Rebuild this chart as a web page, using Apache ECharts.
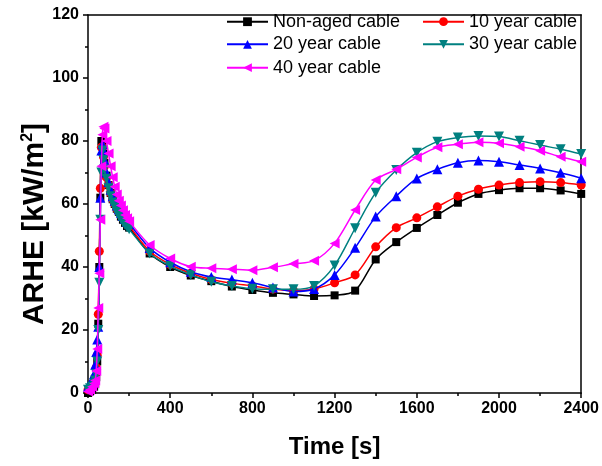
<!DOCTYPE html>
<html><head><meta charset="utf-8">
<script src="https://cdn.jsdelivr.net/npm/echarts@6/dist/echarts.min.js"></script>
<style>html,body{margin:0;padding:0;background:#fff}#c{width:602px;height:466px}</style>
</head><body><div id="c"></div>
<script>
const times = [0,10,20,30,35,40,45,50,55,60,65,70,75,80,90,100,110,120,130,140,150,160,170,180,190,200,
  300,400,500,600,700,800,900,1000,1100,1200,1300,1400,1500,1600,1700,1800,1900,2000,2100,2200,2300,2400];
const nonAged = [0,0.5,1,2,3,5,10,22,40,62,80,79,76,73,69,66,63.5,61.5,60,58.5,57.5,56,55,54,53,52.5,
  44.3,40,37.3,35.5,33.8,32.7,31.8,31.3,30.8,31,32.5,42.4,47.9,52.4,56.5,60.4,63.2,64.4,65,65,64.3,63.2];
const year10 = [1,1.5,2,3,5,8,12,25,45,65,78,78,75,72,68.5,66,63.5,61.5,60,58.5,57.5,56.5,55.5,54.5,53.5,53,
  45,40.8,38,36,34.8,34,33,32.5,33,35,37.5,46.4,52.5,55.6,59.1,62.5,64.7,66,66.8,67.1,66.8,66];
const year20 = [2,3,4,6,9,13,17,21,40,62,77,79,77,74,70,67,64.5,62.5,61,59.5,58.3,57.2,56.2,55.2,54.3,53.8,
  46,41.5,38.5,36.8,36,35,33.5,32.2,33,37.5,46.1,56,62.5,68.1,71,73.1,73.8,73.4,72.4,71.3,69.9,68.2];
const year30 = [1,1.5,2,3,4,6,10,20,35,55,70,77,74,71,68,65,62.5,60.5,59,57.5,56.3,55.2,54.2,53.3,52.6,52,
  44.3,40.3,37.5,35.3,34,33.1,32.9,32.9,34,40.5,52.3,63.6,70.8,76.3,79.8,81.1,81.6,81.4,80.1,78.7,77.4,75.9];
const year40 = [0.5,1,2,3,4,7,14,27,38,55,72,82,84.5,84,80,76,72,68.5,65.5,63,61,59.5,58,56.5,55.5,54.5,
  47,42.7,40.1,39.6,39.3,39,39.9,41,42,47.5,58.1,67.6,71,74.8,78,79,79.6,79.3,78.2,76.9,75,73.4];
const seriesNames = ['Non-aged cable','10 year cable','20 year cable','30 year cable','40 year cable'];
const xTicks = {min:0, max:2400, interval:400};
const yTicks = {min:0, max:120, interval:20};

const values = [nonAged, year10, year20, year30, year40];
const colors = ['#000000','#ff0000','#0000ff','#008080','#ff00ff'];
const symbols = ['rect','circle','triangle','triangle','triangle'];
const rotates = [0,0,0,180,90];
const sizes = [8,9,10,10,10];
const FONT = '"Liberation Sans", Arial, sans-serif';

const series = values.map((arr,i)=>({
  name: seriesNames[i], type:'line', smooth:0.3,
  data: times.map((t,j)=>[t,arr[j]]),
  symbol: symbols[i], symbolSize: sizes[i], symbolRotate: rotates[i],
  showAllSymbol: true,
  lineStyle:{color:colors[i], width:1.5},
  itemStyle:{color:colors[i]},
  z: 2+i
}));

const legendPos = [[226,21.7],[422,21.7],[226,44.3],[422,44.3],[226,67.7]];
const legends = seriesNames.map((n,i)=>({
  data:[n], left:legendPos[i][0], top:legendPos[i][1]-10, padding:0,
  itemWidth:41, itemHeight:11, itemGap:0, selectedMode:false,
  textStyle:{fontSize:18, fontFamily:FONT, color:'#000', lineHeight:20}
}));

const axisCommon = {
  axisLine:{show:true, onZero:false, lineStyle:{color:'#000', width:1.5}},
  splitLine:{show:false}
};

const chart = echarts.init(document.getElementById('c'), null, {renderer:'canvas'});
chart.setOption({
  animation:false,
  backgroundColor:'#fff',
  grid:{left:88, right:19, top:15, bottom:73, containLabel:false},
  legend: legends,
  xAxis:[
    Object.assign({type:'value', position:'bottom', min:xTicks.min, max:xTicks.max, interval:xTicks.interval,
      axisTick:{show:true, inside:false, length:5, lineStyle:{color:'#000', width:1.5}},
      minorTick:{show:true, splitNumber:2, length:3, lineStyle:{color:'#000', width:1.5}},
      axisLabel:{fontSize:16, fontWeight:'bold', color:'#000', fontFamily:FONT, margin:8,
        formatter:(v)=>String(v)},
      name:'Time [s]', nameLocation:'middle', nameGap:42,
      nameTextStyle:{fontSize:24, fontWeight:'bold', color:'#000', fontFamily:FONT}
    }, axisCommon),
    Object.assign({type:'value', position:'top', min:xTicks.min, max:xTicks.max, interval:xTicks.interval,
      axisTick:{show:false}, axisLabel:{show:false}}, axisCommon)
  ],
  yAxis:[
    Object.assign({type:'value', position:'left', min:yTicks.min, max:yTicks.max, interval:yTicks.interval,
      axisTick:{show:true, inside:false, length:5, lineStyle:{color:'#000', width:1.5}},
      minorTick:{show:true, splitNumber:2, length:3, lineStyle:{color:'#000', width:1.5}},
      axisLabel:{fontSize:16, fontWeight:'bold', color:'#000', fontFamily:FONT, margin:9,
        formatter:(v)=>String(v)}
    }, axisCommon),
    Object.assign({type:'value', position:'right', min:yTicks.min, max:yTicks.max, interval:yTicks.interval,
      axisTick:{show:false}, axisLabel:{show:false}}, axisCommon)
  ],
  graphic:[{
    type:'text', x:35, y:224, rotation:Math.PI/2,
    style:{text:'ARHE [kW/m{sup|2}]', fill:'#000', font:'bold 30px '+FONT,
      align:'center', verticalAlign:'middle',
      rich:{sup:{fontSize:16, fontWeight:'bold', fontFamily:FONT, verticalAlign:'top', padding:[0,0,14,0]}}}
  }],
  series: series
});
</script></body></html>
